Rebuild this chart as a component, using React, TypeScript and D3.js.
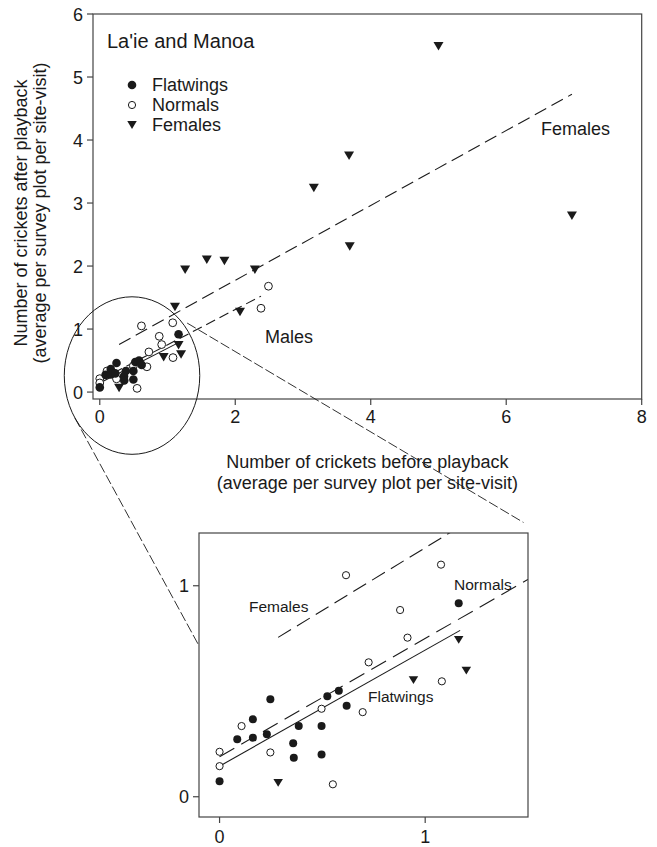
import * as d3 from "d3"

// Flatwings (filled circles)
const flatX = [0, 0.086, 0.162, 0.162, 0.23, 0.247, 0.358, 0.361, 0.385, 0.496, 0.496, 0.524, 0.58, 0.618, 1.163]
const flatY = [0.074, 0.273, 0.28, 0.367, 0.296, 0.462, 0.253, 0.185, 0.335, 0.335, 0.2, 0.476, 0.502, 0.431, 0.917]

// Normals (open circles)
const normX = [0, 0, 0.107, 0.247, 0.496, 0.551, 0.696, 0.725, 1.081, 0.615, 1.077, 0.878, 0.914, 2.38, 2.49]
const normY = [0.213, 0.145, 0.335, 0.21, 0.417, 0.059, 0.401, 0.637, 0.547, 1.05, 1.1, 0.885, 0.754, 1.33, 1.68]

// Females (down triangles)
const femX = [0.285, 0.943, 1.2, 1.163, 1.11, 1.26, 1.58, 1.84, 2.29, 2.07, 3.16, 3.68, 3.69, 5.0, 6.97]
const femY = [0.066, 0.553, 0.598, 0.743, 1.35, 1.94, 2.1, 2.08, 1.94, 1.27, 3.24, 3.75, 2.31, 5.49, 2.8]

// regression lines: name, intercept, slope, x from, x to
const fitNames = ["Flatwings", "Normals", "Females"]
const fitIntercept = [0.145, 0.19, 0.586]
const fitSlope = [0.55, 0.56, 0.594]
const fitFrom = [0, 0, 0.285]
const fitTo = [1.17, 2.38, 6.97]

const mainXTicks = [0, 2, 4, 6, 8]
const mainYTicks = [0, 1, 2, 3, 4, 5, 6]
const insetTicks = [0, 1]

const FONT = "'Liberation Sans', Arial, sans-serif"
const INK = "#1a1a1a"
const FRAME = "#444"

const xMain = d3.scaleLinear().domain([-0.1, 8]).range([93, 641.7])
const yMain = d3.scaleLinear().domain([-0.11, 6]).range([399, 14])
const xIn = d3.scaleLinear().domain([-0.1, 1.5]).range([199, 528])
const yIn = d3.scaleLinear().domain([-0.096, 1.25]).range([817, 533])

type Scale = d3.ScaleLinear<number, number>

const tri = (w: number, h: number) => `M${-w / 2},${-h / 2}L${w / 2},${-h / 2}L0,${h / 2}Z`

function Points({ xs, ys, r, tw, th }: { xs: Scale; ys: Scale; r: number; tw: number; th: number }) {
  return (
    <g>
      {femX.map((x, i) => (
        <path key={"f" + i} d={tri(tw, th)} transform={`translate(${xs(x)},${ys(femY[i])})`} fill={INK} />
      ))}
      {normX.map((x, i) => (
        <circle key={"n" + i} cx={xs(x)} cy={ys(normY[i])} r={r - 0.4} fill="white" stroke={INK} strokeWidth={1} />
      ))}
      {flatX.map((x, i) => (
        <circle key={"b" + i} cx={xs(x)} cy={ys(flatY[i])} r={r} fill={INK} />
      ))}
    </g>
  )
}

function FitLines({ xs, ys, dashes }: { xs: Scale; ys: Scale; dashes: string[] }) {
  return (
    <g>
      {fitNames.map((name, i) => (
        <line
          key={name}
          x1={xs(fitFrom[i])}
          y1={ys(fitIntercept[i] + fitSlope[i] * fitFrom[i])}
          x2={xs(fitTo[i])}
          y2={ys(fitIntercept[i] + fitSlope[i] * fitTo[i])}
          stroke={INK}
          strokeWidth={1.1}
          strokeDasharray={dashes[i]}
        />
      ))}
    </g>
  )
}

export default function App() {
  const [mx0, mx1] = xMain.range()
  const [my0, my1] = yMain.range()
  const [ix0, ix1] = xIn.range()
  const [iy0, iy1] = yIn.range()

  // magnifier ellipse, in main data units
  const cx = xMain(0.476)
  const cy = yMain(0.262)
  const rx = xMain(1.476) - cx
  const ry = cy - yMain(1.512)

  return (
    <svg
      width={657}
      height={847}
      style={{ position: "absolute", left: 0, top: 0, background: "white" }}
      fontFamily={FONT}
    >
      <rect width={657} height={847} fill="white" />

      {/* main plot */}
      <FitLines xs={xMain} ys={yMain} dashes={["none", "10,5", "13,6"]} />
      <Points xs={xMain} ys={yMain} r={4.3} tw={10} th={8.5} />
      <rect x={mx0} y={my1} width={mx1 - mx0} height={my0 - my1} fill="none" stroke={FRAME} strokeWidth={1.2} />
      {mainXTicks.map((t) => (
        <g key={"x" + t}>
          <line x1={xMain(t)} x2={xMain(t)} y1={my0} y2={my0 + 6} stroke={FRAME} strokeWidth={1.2} />
          <text x={xMain(t)} y={my0 + 24} textAnchor="middle" fontSize={18} fill={INK}>
            {t}
          </text>
        </g>
      ))}
      {mainYTicks.map((t) => (
        <g key={"y" + t}>
          <line x1={mx0 - 6} x2={mx0} y1={yMain(t)} y2={yMain(t)} stroke={FRAME} strokeWidth={1.2} />
          <text x={mx0 - 10} y={yMain(t) + 6.5} textAnchor="end" fontSize={18} fill={INK}>
            {t}
          </text>
        </g>
      ))}

      <text x={107} y={48} fontSize={20} fill={INK}>
        La'ie and Manoa
      </text>
      <circle cx={132} cy={85} r={4.3} fill={INK} />
      <circle cx={132} cy={105} r={3.6} fill="white" stroke={INK} strokeWidth={1} />
      <path d={tri(9.5, 8)} transform="translate(132,125)" fill={INK} />
      <text x={152} y={91} fontSize={18} fill={INK}>Flatwings</text>
      <text x={152} y={111} fontSize={18} fill={INK}>Normals</text>
      <text x={152} y={131} fontSize={18} fill={INK}>Females</text>

      <text x={541} y={135} fontSize={18} fill={INK}>Females</text>
      <text x={265} y={343} fontSize={18} fill={INK}>Males</text>

      <text x={(mx0 + mx1) / 2} y={468} textAnchor="middle" fontSize={18} fill={INK}>
        Number of crickets before playback
      </text>
      <text x={(mx0 + mx1) / 2} y={489} textAnchor="middle" fontSize={18} fill={INK}>
        (average per survey plot per site-visit)
      </text>
      <text transform="translate(27,213) rotate(-90)" textAnchor="middle" fontSize={18} fill={INK}>
        Number of crickets after playback
      </text>
      <text transform="translate(46,213) rotate(-90)" textAnchor="middle" fontSize={18} fill={INK}>
        (average per survey plot per site-visit)
      </text>

      {/* magnifier */}
      <ellipse cx={cx} cy={cy} rx={rx} ry={ry} fill="none" stroke={INK} strokeWidth={1} />
      <line
        x1={xMain(1.29)}
        y1={yMain(1.095)}
        x2={xIn(1.478)}
        y2={yIn(1.3)}
        stroke={INK}
        strokeWidth={0.9}
        strokeDasharray="10,3"
      />
      <line
        x1={xMain(-0.366)}
        y1={yMain(-0.413)}
        x2={xIn(-0.102)}
        y2={yIn(0.719)}
        stroke={INK}
        strokeWidth={0.9}
        strokeDasharray="10,3"
      />

      {/* inset */}
      <defs>
        <clipPath id="inset-clip">
          <rect x={ix0} y={iy1} width={ix1 - ix0} height={iy0 - iy1} />
        </clipPath>
      </defs>
      <rect x={ix0} y={iy1} width={ix1 - ix0} height={iy0 - iy1} fill="white" />
      <g clipPath="url(#inset-clip)">
        <FitLines xs={xIn} ys={yIn} dashes={["none", "17,8", "15,7"]} />
        <Points xs={xIn} ys={yIn} r={4} tw={9.5} th={7.8} />
      </g>
      <rect x={ix0} y={iy1} width={ix1 - ix0} height={iy0 - iy1} fill="none" stroke={FRAME} strokeWidth={1.2} />
      {insetTicks.map((t) => (
        <g key={"ix" + t}>
          <line x1={xIn(t)} x2={xIn(t)} y1={iy0} y2={iy0 + 6} stroke={FRAME} strokeWidth={1.2} />
          <text x={xIn(t)} y={iy0 + 26} textAnchor="middle" fontSize={18} fill={INK}>
            {t}
          </text>
          <line x1={ix0 - 6} x2={ix0} y1={yIn(t)} y2={yIn(t)} stroke={FRAME} strokeWidth={1.2} />
          <text x={ix0 - 10} y={yIn(t) + 6.5} textAnchor="end" fontSize={18} fill={INK}>
            {t}
          </text>
        </g>
      ))}
      <text x={249} y={612} fontSize={15.5} fill={INK}>Females</text>
      <text x={454} y={590} fontSize={15.5} fill={INK}>Normals</text>
      <text x={368} y={702} fontSize={15.5} fill={INK}>Flatwings</text>
    </svg>
  )
}
